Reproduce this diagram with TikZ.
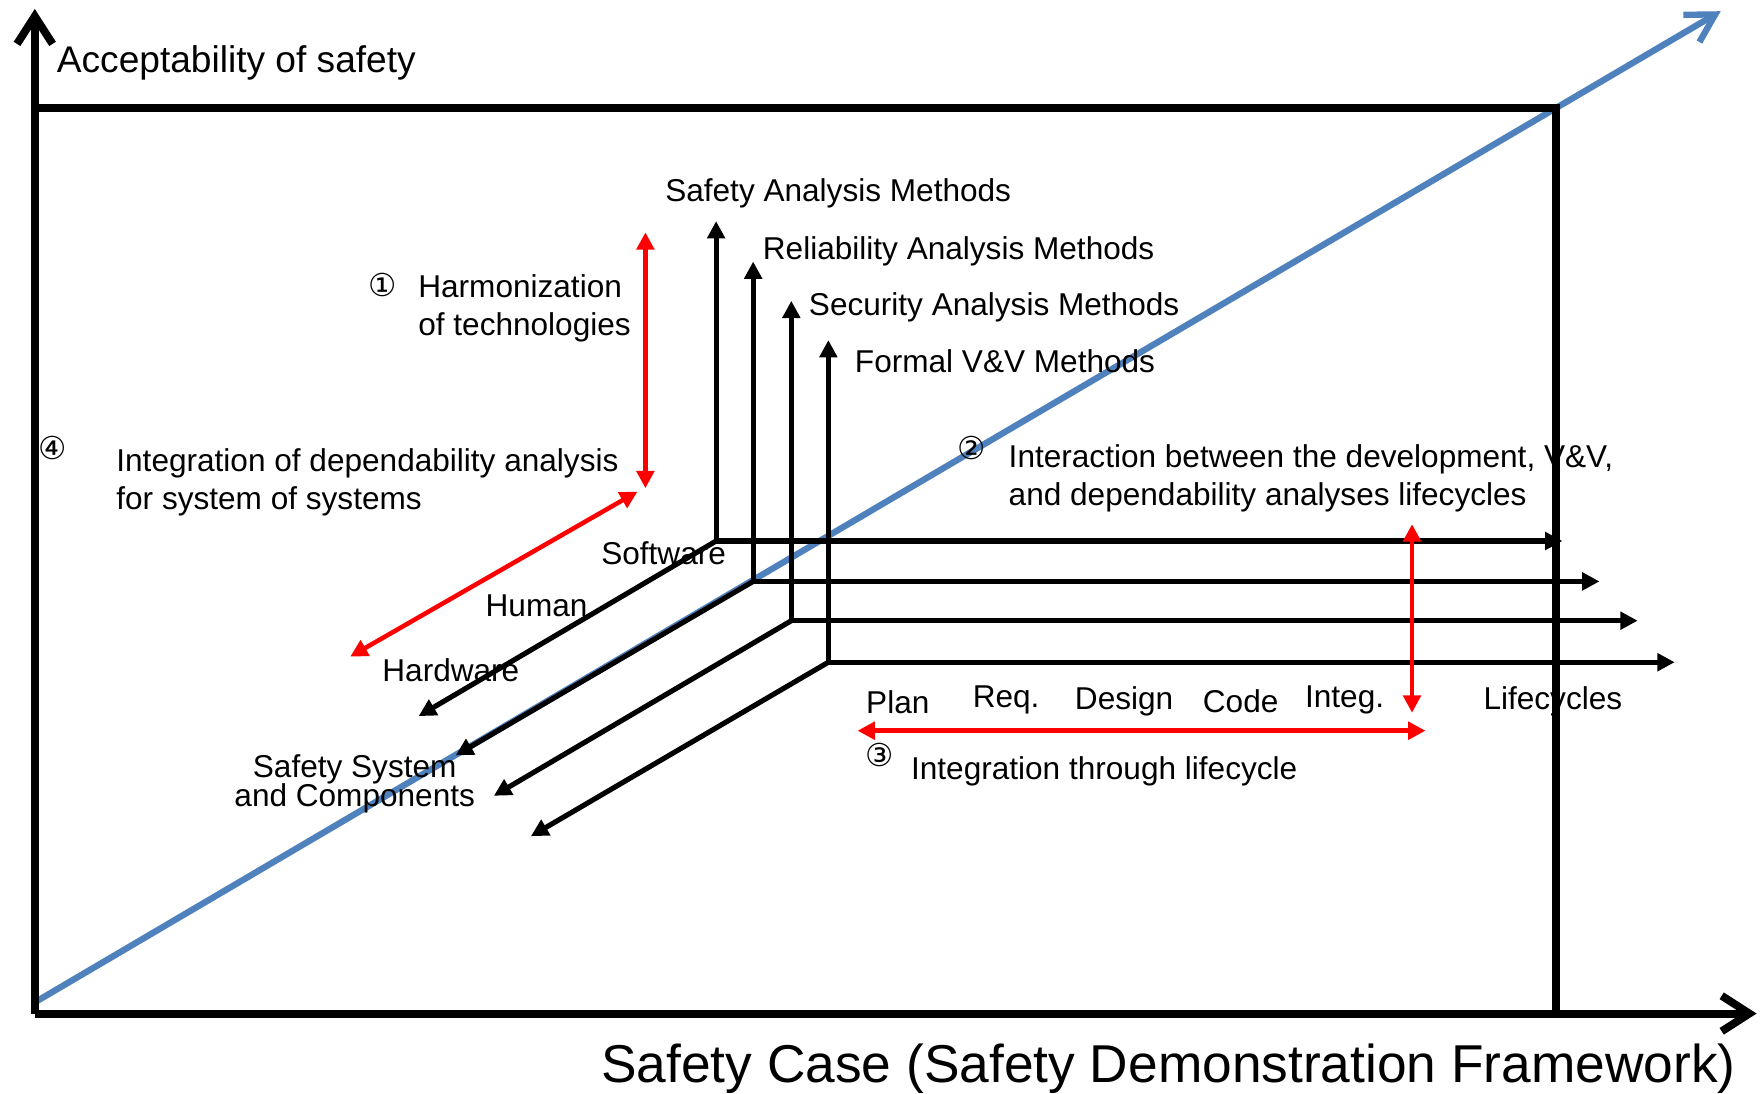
\documentclass[tikz,border=0pt]{standalone}
\usepackage{fontspec}
\setmainfont{Liberation Sans}
\newfontfamily\circfont{DejaVu Sans}
\usetikzlibrary{arrows.meta}
\definecolor{lineblue}{RGB}{79,129,189}
\begin{document}
\begin{tikzpicture}[x=0.01cm,y=-0.01cm,>={Triangle[length=4.4pt,width=4.4pt]},
  every node/.style={inner sep=0pt,anchor=west,font=\fontsize{8}{9.6}\selectfont},
  mainaxis/.style={line width=2pt,-{Straight Barb[length=7pt,width=9pt]}},
  layer/.style={line width=1.3pt,->},
  redarrow/.style={line width=1.15pt,red,<->},
  num/.style={anchor=center,font=\circfont\fontsize{8}{9}\selectfont}]
\useasboundingbox (0,0) rectangle (1568,974);
% axes, frame and diagonal
\coordinate (o) at (31,903);
\coordinate (ytip) at (31,8);
\coordinate (xtip) at (1565,903);
\coordinate (tl) at (31,96);
\coordinate (tr) at (1386,96);
\coordinate (br) at (1386,903);
\coordinate (bstart) at (31,893);
\coordinate (btip) at (1533,10);
\draw[line width=1.6pt,lineblue,-{Straight Barb[length=7pt,width=8pt]}] (bstart)--(btip);
\draw[mainaxis] (o)--(ytip);
\draw[mainaxis] (o)--(xtip);
\draw[line width=2pt] (tl)--(tr)--(br);
\node (accept) at (50,56) {\fontsize{9.4}{11}\selectfont Acceptability of safety};
\node (case) at (535,952) {\fontsize{13.5}{16}\selectfont Safety Case (Safety Demonstration Framework)};
% four layers: up = methods, right = lifecycle, down-left = system
\coordinate (s1) at (638,482); \coordinate (s1u) at (638,197);
\coordinate (s1r) at (1392,482); \coordinate (s1d) at (373,638);
\coordinate (s2) at (671,518); \coordinate (s2u) at (671,233);
\coordinate (s2r) at (1425,518); \coordinate (s2d) at (406,673);
\coordinate (s3) at (705,553); \coordinate (s3u) at (705,268);
\coordinate (s3r) at (1459,553); \coordinate (s3d) at (440,709);
\coordinate (s4) at (738,590); \coordinate (s4u) at (738,303);
\coordinate (s4r) at (1492,590); \coordinate (s4d) at (473,745);
\draw[layer] (s1)--(s1u); \draw[layer] (s1)--(s1r); \draw[layer] (s1)--(s1d);
\draw[layer] (s2)--(s2u); \draw[layer] (s2)--(s2r); \draw[layer] (s2)--(s2d);
\draw[layer] (s3)--(s3u); \draw[layer] (s3)--(s3r); \draw[layer] (s3)--(s3d);
\draw[layer] (s4)--(s4u); \draw[layer] (s4)--(s4r); \draw[layer] (s4)--(s4d);
\node (sam) at (592,172) {Safety Analysis Methods};
\node (ram) at (679,224) {Reliability Analysis Methods};
\node (secm) at (720,274) {Security Analysis Methods};
\node (vvm) at (761,322) {Formal V\&V Methods};
\node (sw) at (535,493) {Software};
\node (hu) at (432,540) {Human};
\node (hw) at (340,597) {Hardware};
\node[anchor=center,align=center] (ssc) at (316,698) {Safety System\\[-2.3pt]and Components};
\node (plan) at (771,626) {Plan};
\node (req) at (866,624) {Req.};
\node (design) at (957,625) {Design};
\node (code) at (1071,625) {Code};
\node (integ) at (1162,624) {Integ.};
\node (life) at (1321,625) {Lifecycles};
% red arrows and their notes
\coordinate (r1a) at (575,207); \coordinate (r1b) at (575,435);
\coordinate (r4a) at (568,438); \coordinate (r4b) at (312,585);
\coordinate (r2a) at (1258,467); \coordinate (r2b) at (1258,635);
\coordinate (r3a) at (764,651); \coordinate (r3b) at (1270,651);
\draw[redarrow] (r1a)--(r1b);
\draw[redarrow] (r4a)--(r4b);
\draw[redarrow] (r2a)--(r2b);
\draw[redarrow] (r3a)--(r3b);
\node[num] (n1) at (341,254) {①};
\node[align=left] (harm) at (372,275) {Harmonization\\of technologies};
\node[num] (n4) at (47,399) {④};
\node[align=left] (sos) at (103,430) {Integration of dependability analysis\\for system of systems};
\node[num] (n2) at (866,399) {②};
\node[align=left] (inter) at (898,426) {Interaction between the development, V\&V,\\and dependability analyses lifecycles};
\node[num] (n3) at (784,673) {③};
\node (thru) at (811,687) {Integration through lifecycle};
\end{tikzpicture}
\end{document}
